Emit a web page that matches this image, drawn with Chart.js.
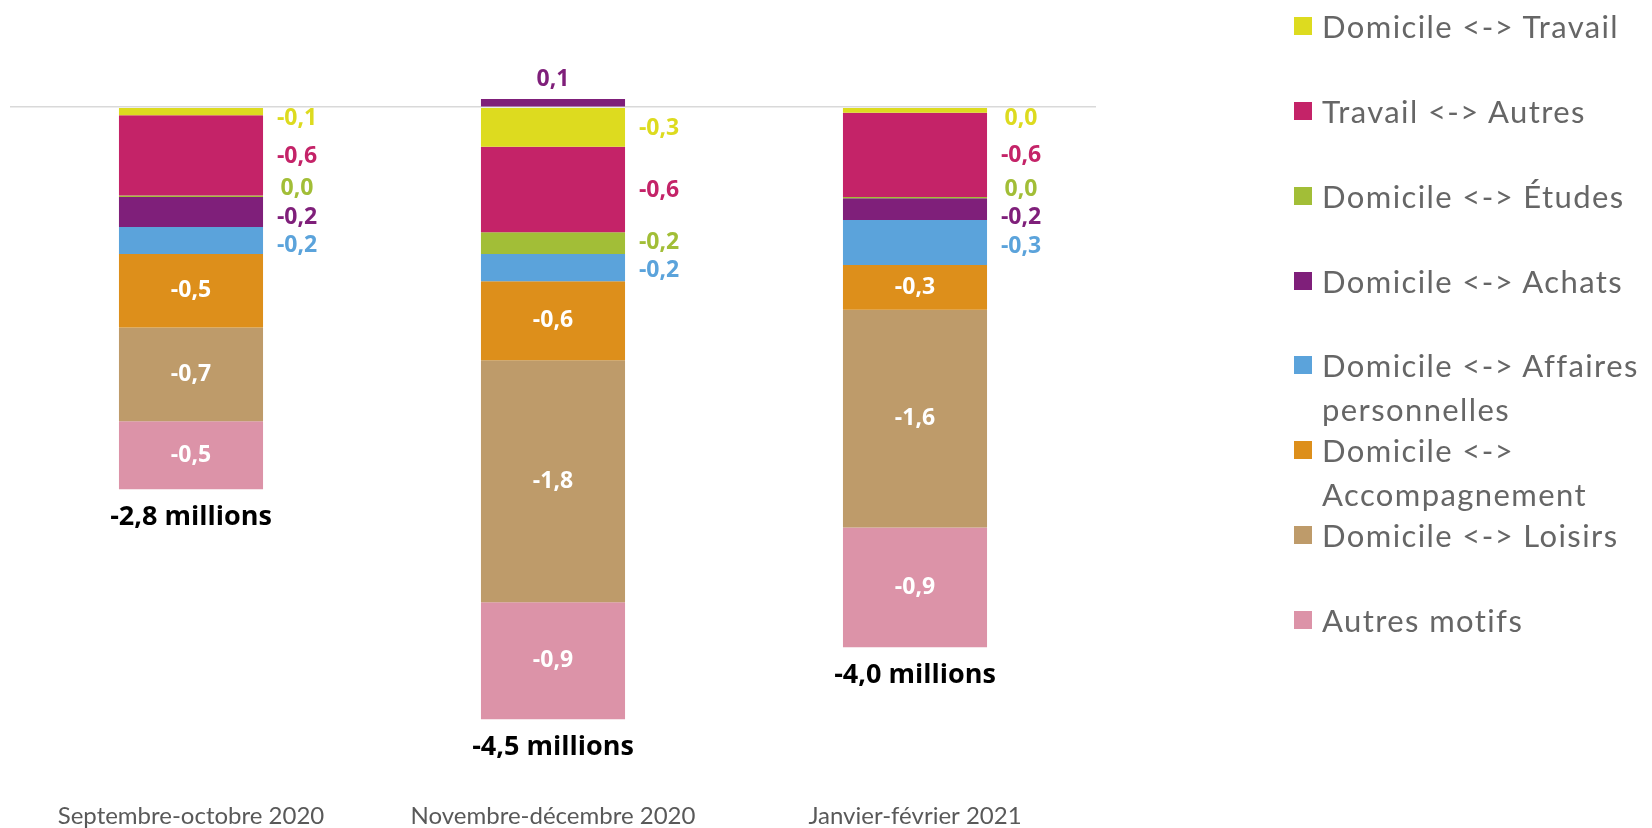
<!DOCTYPE html>
<html lang="fr">
<head>
<meta charset="utf-8">
<script src="https://cdn.jsdelivr.net/npm/chart.js@4/dist/chart.umd.min.js"></script>
<style>
  html, body { margin:0; padding:0; background:#fff; overflow:hidden; }
  #wrap { position:relative; width:1652px; height:828px; }
  #c { position:absolute; left:0; top:0; }
  #legend { position:absolute; left:1294px; top:0; width:358px; font-family:Lato, sans-serif; }
  .item { position:absolute; left:0; width:350px; }
  .sw { position:absolute; left:0; width:18px; height:18px; }
  .tx { position:absolute; left:28px; width:326px; font-size:31px; line-height:44px; color:#666666; letter-spacing:1.4px; }
  .nb { white-space:nowrap; }
</style>
</head>
<body>
<div id="wrap">
  <canvas id="c" width="1652" height="828"></canvas>
  <div id="legend"></div>
</div>
<script>
// ---- data ----
const categories = ["Septembre-octobre 2020", "Novembre-décembre 2020", "Janvier-février 2021"];
const seriesNames = [
  "Domicile <-> Travail",
  "Travail <-> Autres",
  "Domicile <-> Études",
  "Domicile <-> Achats",
  "Domicile <-> Affaires personnelles",
  "Domicile <-> Accompagnement",
  "Domicile <-> Loisirs",
  "Autres motifs"
];
const domicileTravail   = [-0.06, -0.29, -0.04];
const travailAutres     = [-0.59, -0.63, -0.62];
const domicileEtudes    = [-0.01, -0.16, -0.01];
const domicileAchats    = [-0.22,  0.06, -0.16];
const domicileAffaires  = [-0.20, -0.20, -0.33];
const domicileAccomp    = [-0.54, -0.58, -0.33];
const domicileLoisirs   = [-0.69, -1.78, -1.60];
const autresMotifs      = [-0.50, -0.86, -0.88];
const totals            = [-2.8, -4.5, -4.0];

const seriesValues = [domicileTravail, travailAutres, domicileEtudes, domicileAchats,
                      domicileAffaires, domicileAccomp, domicileLoisirs, autresMotifs];
const colors = ["#DDDB1F", "#C42368", "#A2BE37", "#7F1F7A", "#5BA3DB", "#DD8F1B", "#BE9B6A", "#DC93A8"];
const insideLabel = [false, false, false, false, false, true, true, true];

function fmt(v) {
  const r = Math.round(v * 10) / 10;
  if (Math.abs(r) < 0.05) return "0,0";
  return r.toFixed(1).replace('.', ',');
}

// ---- labels plugin ----
const labelsPlugin = {
  id: 'segLabels',
  afterDatasetsDraw(chart) {
    const ctx = chart.ctx;
    const yScale = chart.scales.y;
    const zeroY = yScale.getPixelForValue(0);
    ctx.save();
    ctx.textAlign = 'center';
    ctx.textBaseline = 'middle';
    categories.forEach((cat, j) => {
      const outside = [];
      let bottom = zeroY, barRight = 0, barX = 0;
      seriesValues.forEach((vals, d) => {
        const el = chart.getDatasetMeta(d).data[j];
        const p = el.getProps(['x', 'y', 'base', 'width'], true);
        barX = p.x; barRight = p.x + p.width / 2;
        const v = vals[j];
        if (v < 0) bottom = Math.max(bottom, p.y);
        if (insideLabel[d]) {
          ctx.font = 'bold 23px "Open Sans"';
          ctx.fillStyle = '#FFFFFF';
          ctx.fillText(fmt(v), p.x, (p.y + p.base) / 2);
        } else if (v > 0) {
          ctx.font = 'bold 23px "Open Sans"';
          ctx.fillStyle = colors[d];
          ctx.fillText(fmt(v), p.x, p.y - 20);
        } else {
          outside.push({ d, v, y: (p.y + p.base) / 2 });
        }
      });
      // simple de-overlap
      const gap = 28.5, minY = zeroY + 10;
      for (let it = 0; it < 200; it++) {
        for (let k = 0; k < outside.length - 1; k++) {
          const a = outside[k], b = outside[k + 1];
          const dlt = b.y - a.y;
          if (dlt < gap) { const s = (gap - dlt) / 2; a.y -= s; b.y += s; }
        }
        if (outside.length && outside[0].y < minY) {
          outside[0].y = minY;
        }
      }
      outside.forEach(o => {
        ctx.font = 'bold 23px "Open Sans"';
        ctx.fillStyle = colors[o.d];
        ctx.fillText(fmt(o.v), barRight + 34, o.y + 1);
      });
      ctx.font = 'bold 27px "Open Sans"';
      ctx.fillStyle = '#000000';
      ctx.fillText(totals[j].toFixed(1).replace('.', ',') + ' millions', barX, bottom + 28);
    });
    ctx.restore();
  }
};

const datasets = seriesNames.map((name, d) => ({
  label: name,
  data: seriesValues[d],
  backgroundColor: colors[d],
  borderWidth: 0,
  barPercentage: 0.398,
  categoryPercentage: 1.0
}));

new Chart(document.getElementById('c'), {
  type: 'bar',
  data: { labels: categories, datasets },
  options: {
    responsive: false,
    animation: false,
    layout: { padding: { left: 10, right: 556, top: 80, bottom: 0 } },
    plugins: { legend: { display: false }, tooltip: { enabled: false } },
    scales: {
      x: {
        stacked: true,
        grid: { display: false, drawTicks: false },
        border: { display: false },
        ticks: { color: '#595959', font: { family: 'Lato', size: 24 }, padding: 2 },
        afterFit(scale) { scale.height = 28; }
      },
      y: {
        stacked: true,
        min: -5.094,
        max: 0.2,
        border: { display: false },
        ticks: { display: false, stepSize: 0.1 },
        grid: {
          drawTicks: false,
          color: (c) => (c.tick && Math.abs(c.tick.value) < 1e-9) ? '#D9D9D9' : 'rgba(0,0,0,0)',
          lineWidth: 1.5
        },
        afterFit(scale) { scale.width = 0; }
      }
    }
  },
  plugins: [labelsPlugin]
});

// ---- HTML legend ----
const legend = document.getElementById('legend');
seriesNames.forEach((name, i) => {
  const cy = 26 + 84.86 * i;
  const item = document.createElement('div');
  item.className = 'item';
  item.style.top = (cy - 22) + 'px';
  const sw = document.createElement('div');
  sw.className = 'sw';
  sw.style.background = colors[i];
  sw.style.top = (22 - 9) + 'px';
  const tx = document.createElement('div');
  tx.className = 'tx';
  const parts = name.split('<->');
  if (parts.length === 2) {
    tx.appendChild(document.createTextNode(parts[0]));
    const nb = document.createElement('span');
    nb.className = 'nb';
    nb.textContent = '<->';
    tx.appendChild(nb);
    tx.appendChild(document.createTextNode(parts[1]));
  } else {
    tx.textContent = name;
  }
  item.appendChild(sw);
  item.appendChild(tx);
  legend.appendChild(item);
});
</script>
</body>
</html>
